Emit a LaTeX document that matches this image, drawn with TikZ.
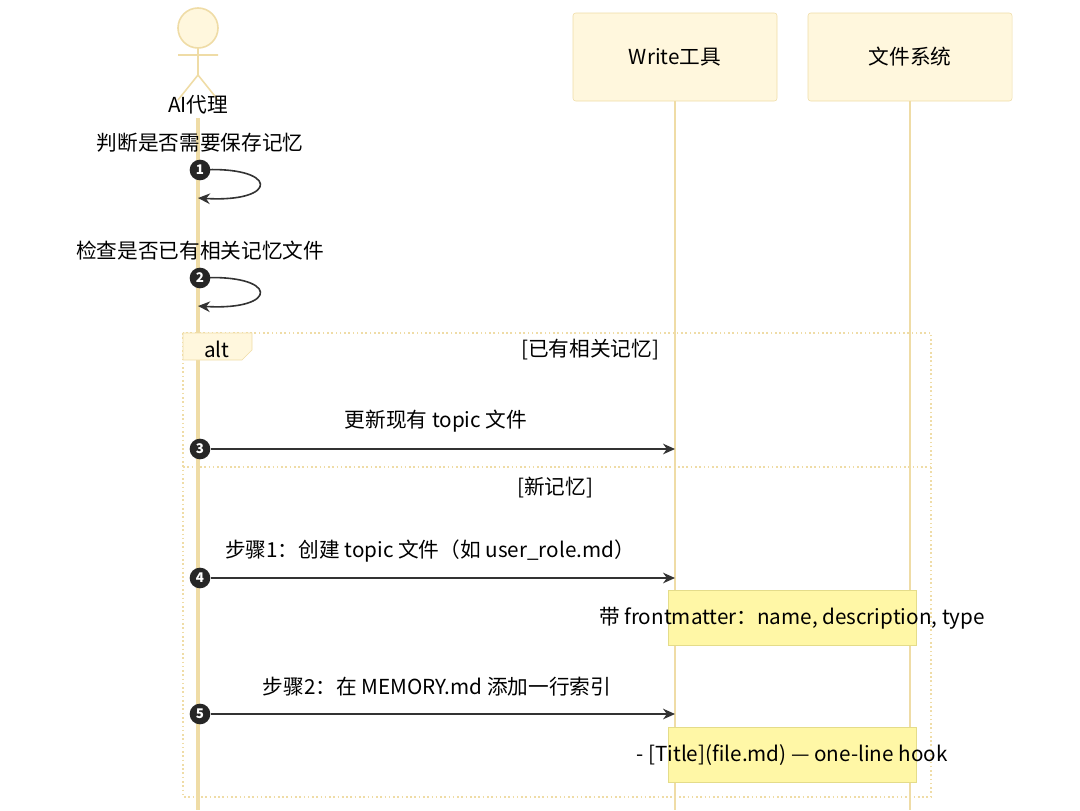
\documentclass[tikz,border=0pt]{standalone}
\usepackage{fontspec}
\setmainfont{Noto Sans CJK SC}
\usetikzlibrary{calc, arrows.meta}
\definecolor{boxfill}{HTML}{FFF7DD}
\definecolor{boxline}{HTML}{EFDCA6}
\definecolor{notefill}{HTML}{FFF7A6}
\definecolor{noteline}{HTML}{E4DC8A}
\begin{document}
\begin{tikzpicture}[x=0.75pt,y=-0.75pt,font=\fontsize{15.5}{18}\selectfont,
every node/.style={inner sep=0pt},
part/.style={draw=boxline,fill=boxfill,rounded corners=2pt,minimum width=153pt,minimum height=66pt},
life/.style={draw=boxline,line width=1.2pt},
msg/.style={-{Stealth[length=9pt,width=8pt]},line width=1.2pt,draw=black!80},
num/.style={circle,fill=black!85,text=white,minimum size=15.5pt,font=\fontsize{10}{11}\selectfont\bfseries},
note/.style={draw=noteline,fill=notefill,minimum width=186pt,minimum height=41pt},
frame/.style={draw=boxline,line width=1.2pt,dotted}
]
\useasboundingbox (0,0) rectangle (1080,810);
% participants
\node[part] (pW) at (675,57) {Write工具};
\node[part] (pF) at (910,57) {文件系统};
\draw[life] (pW.south) -- (675,810);
\draw[life] (pF.south) -- (910,810);
% actor
\draw[boxline,fill=boxfill,line width=1.2pt] (198,28) circle (15pt);
\draw[boxline,line width=1.2pt] (198,48) -- (198,75) (178,55) -- (218,55) (178,100) -- (198,75) -- (218,100);
\node (aAI) at (198,105) {AI代理};
\draw[boxline,line width=2.5pt] (198,118) -- (198,810);
% alt frame
\draw[frame] (183,333) rectangle (931,797);
\draw[boxline,fill=boxfill] (183,333) -- (252,333) -- (252,350) -- (242,360) -- (183,360) -- cycle;
\node (alt) at (217,349) {alt};
\node (g1) at (590,350) {[已有相关记忆]};
\draw[frame] (183,467) -- (931,467);
\node (g2) at (555,488) {[新记忆]};
% self messages
\node (t1) at (200,143) {判断是否需要保存记忆};
\coordinate (s1) at (198,170);
\coordinate (e1) at (198,198);
\draw[msg] (s1) .. controls (280,165) and (280,203) .. (e1);
\node[num] (n1) at (200,170) {1};
\node (t2) at (200,251) {检查是否已有相关记忆文件};
\coordinate (s2) at (198,278);
\coordinate (e2) at (198,306);
\draw[msg] (s2) .. controls (280,273) and (280,311) .. (e2);
\node[num] (n2) at (200,278) {2};
% messages
\node (t3) at (436,421) {更新现有 topic 文件};
\coordinate (w3) at (675,449);
\node[num] (n3) at (200,449) {3};
\draw[msg] (n3) -- (w3);
\node (t4) at (430,551) {步骤1：创建 topic 文件（如 user\_role.md）};
\coordinate (w4) at (675,578);
\node[num] (n4) at (200,578) {4};
\draw[msg] (n4) -- (w4);
\node[note] (note1) at (792,618) {};
\node (nt1) at (792,618) {带 frontmatter：name, description, type};
\node (t5) at (437,687) {步骤2：在 MEMORY.md 添加一行索引};
\coordinate (w5) at (675,714);
\node[num] (n5) at (200,714) {5};
\draw[msg] (n5) -- (w5);
\node[note] (note2) at (792,755) {};
\node (nt2) at (792,755) {- [Title](file.md) — one-line hook};
\end{tikzpicture}
\end{document}
